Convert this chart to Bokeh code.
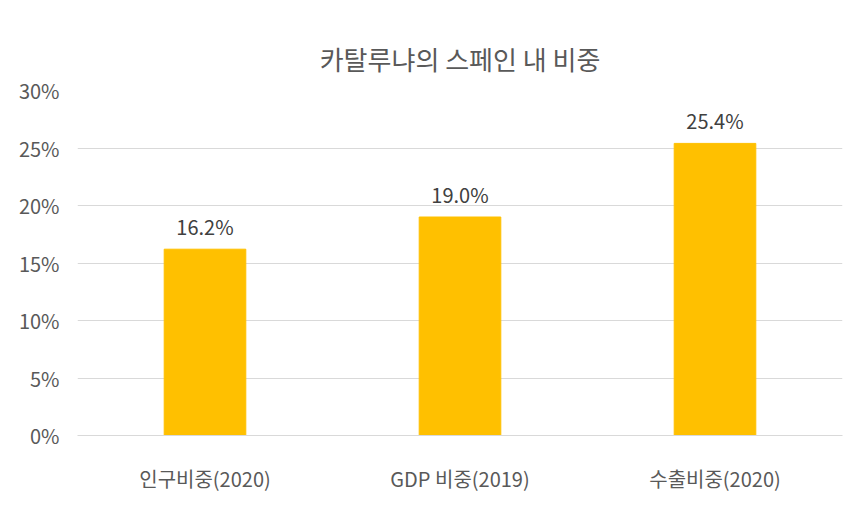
from bokeh.plotting import figure
from bokeh.embed import file_html
from bokeh.resources import INLINE
from bokeh.models import ColumnDataSource, NumeralTickFormatter, FixedTicker, Range1d
from bokeh.core.properties import value

categories = ["인구비중(2020)", "GDP 비중(2019)", "수출비중(2020)"]
values = [0.162, 0.190, 0.254]
labels = ["16.2%", "19.0%", "25.4%"]

FONT = "Noto Sans CJK KR"
src = ColumnDataSource(dict(x=categories, y=values, lab=labels))

p = figure(x_range=categories, y_range=Range1d(0, 0.30), width=850, height=500,
           output_backend="svg", toolbar_location=None,
           min_border_left=77, min_border_right=8, min_border_top=90, min_border_bottom=65)
p.title.text = "카탈루냐의 스페인 내 비중"
p.title.align = "center"
p.title.text_font = FONT
p.title.text_font_size = "26px"
p.title.text_font_style = "normal"
p.title.text_color = "#595959"
p.title.standoff = 28

p.vbar(x="x", top="y", width=0.32, source=src, color="#FFC000")
p.text(x="x", y="y", text="lab", source=src, text_align="center", text_baseline="bottom",
       y_offset=-8, text_font=value(FONT), text_font_size="20px", text_color="#404040")

p.yaxis.ticker = FixedTicker(ticks=[0, 0.05, 0.10, 0.15, 0.20, 0.25, 0.30])
p.yaxis.formatter = NumeralTickFormatter(format="0%")
for ax in (p.xaxis, p.yaxis):
    ax.axis_line_color = None
    ax.major_tick_line_color = None
    ax.minor_tick_line_color = None
    ax.major_label_text_font = FONT
    ax.major_label_text_font_size = "20px"
    ax.major_label_text_color = "#595959"
p.xaxis.axis_line_color = "#d9d9d9"
p.xaxis.major_label_standoff = 22
p.yaxis.major_label_standoff = 12
p.xgrid.grid_line_color = None
p.ygrid.grid_line_color = "#d9d9d9"
p.outline_line_color = None
p.border_fill_color = "white"
p.background_fill_color = "white"
p.x_range.range_padding = 0.0

open("out.html", "w").write(file_html(p, INLINE))
